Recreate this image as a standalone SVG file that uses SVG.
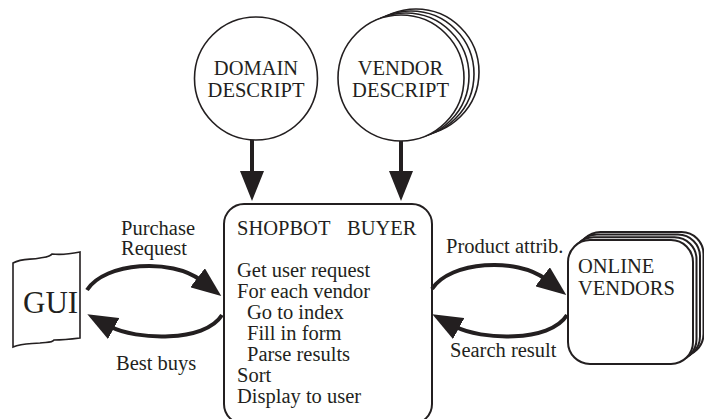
<svg xmlns="http://www.w3.org/2000/svg" width="704" height="419" viewBox="0 0 704 419">
  <style>
    text { font-family: "Liberation Serif", "Times New Roman", serif; font-size: 20.5px; fill: #231f20; }
    .big { font-size: 31px; }
    .outline { fill: #fff; stroke: #231f20; stroke-width: 1.6; }
    .box { fill: #fff; stroke: #231f20; stroke-width: 2; }
    .flow { fill: none; stroke: #231f20; stroke-width: 4; marker-end: url(#head); }
  </style>
  <defs>
    <marker id="head" markerUnits="userSpaceOnUse" viewBox="0 0 30 24" markerWidth="30" markerHeight="24" refX="4" refY="12" orient="auto">
      <path d="M0,0 L30,12 L0,24 Z" fill="#231f20"/>
    </marker>
  </defs>

  <!-- data store: domain description -->
  <g id="domain-descript">
    <circle class="outline" cx="256" cy="78.5" r="61.5"/>
    <text x="256" y="75" text-anchor="middle">DOMAIN</text>
    <text x="256" y="97" text-anchor="middle">DESCRIPT</text>
  </g>

  <!-- stacked data store: vendor descriptions -->
  <g id="vendor-descript">
    <circle class="outline" cx="416" cy="72" r="63"/>
    <circle class="outline" cx="411" cy="74" r="63"/>
    <circle class="outline" cx="406" cy="76" r="63"/>
    <circle class="outline" cx="401" cy="78" r="63"/>
    <text x="400.5" y="75" text-anchor="middle">VENDOR</text>
    <text x="400.5" y="97" text-anchor="middle">DESCRIPT</text>
  </g>

  <!-- user interface sheet -->
  <g id="gui">
    <path class="outline" d="M13,263 C22,258 30,260 40,258 C46,257 50,257 52,254 C60,255 70,254 80,252 L80,338 C72,339 62,340 54,340 C52,343 46,342 40,343 C30,344 22,343 13,347 Z"/>
    <text class="big" x="23" y="313">GUI</text>
  </g>

  <!-- central agent process -->
  <g id="shopbot-buyer">
    <rect class="box" x="224" y="204" width="208" height="220" rx="20" ry="20"/>
    <text x="237" y="235">SHOPBOT</text>
    <text x="347" y="235">BUYER</text>
    <text x="237" y="277">Get user request</text>
    <text x="237" y="298">For each vendor</text>
    <text x="247" y="319">Go to index</text>
    <text x="247" y="340">Fill in form</text>
    <text x="247" y="361">Parse results</text>
    <text x="237" y="382">Sort</text>
    <text x="237" y="403">Display to user</text>
  </g>

  <!-- stacked external sites -->
  <g id="online-vendors">
    <rect class="box" x="578.5" y="232" width="125" height="124" rx="22" ry="22"/>
    <rect class="box" x="575" y="234.6" width="125" height="124" rx="22" ry="22"/>
    <rect class="box" x="571.5" y="237.3" width="125" height="124" rx="22" ry="22"/>
    <rect class="box" x="568" y="240" width="125" height="124" rx="22" ry="22"/>
    <text x="578" y="273">ONLINE</text>
    <text x="578" y="295">VENDORS</text>
  </g>

  <!-- data flows -->
  <g id="connectors">
    <path class="flow" d="M252,140 L252,175"/>
    <path class="flow" d="M401,141 L401,175"/>
    <path class="flow" d="M87,290 C105,262 172,258 200.7,280.2"/>
    <path class="flow" d="M222,315 C205,343 135,340 110.2,326.6"/>
    <path class="flow" d="M432,289 C450,261 517,257 545.7,279.2"/>
    <path class="flow" d="M567,315 C550,343 480,340 455.2,326.6"/>
    <text x="121" y="235">Purchase</text>
    <text x="121" y="255">Request</text>
    <text x="116" y="370">Best buys</text>
    <text x="446" y="253">Product attrib.</text>
    <text x="450" y="357">Search result</text>
  </g>
</svg>
